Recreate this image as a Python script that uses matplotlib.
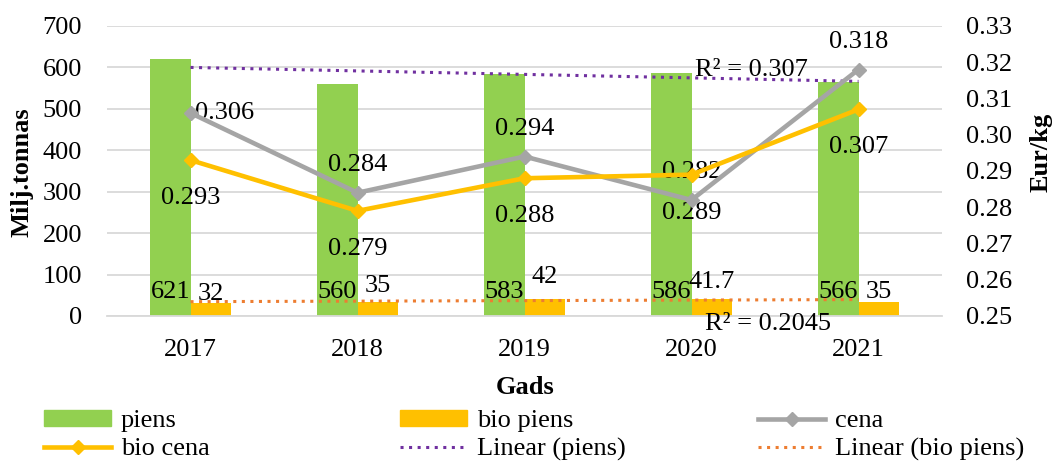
import matplotlib
matplotlib.use("Agg")
import matplotlib.pyplot as plt
import numpy as np
from matplotlib.lines import Line2D
from matplotlib.patches import Patch

plt.rcParams['font.family'] = ['Liberation Serif', 'DejaVu Serif']
plt.rcParams['font.size'] = 19

years = ['2017', '2018', '2019', '2020', '2021']
piens = [621, 560, 583, 586, 566]
bio_piens = [32, 35, 42, 41.7, 35]
bio_piens_labels = ['32', '35', '42', '41.7', '35']
cena = [0.306, 0.284, 0.294, 0.282, 0.318]
bio_cena = [0.293, 0.279, 0.288, 0.289, 0.307]
r2_piens = 'R² = 0.307'
r2_bio = 'R² = 0.2045'

GREEN = '#92d050'
GOLD = '#ffc000'
GREY = '#a5a5a5'
PURPLE = '#7030a0'
ORANGE = '#ed7d31'
GRID = '#d9d9d9'

PX = 0.72  # points per pixel at dpi 100

fig = plt.figure(figsize=(10.56, 4.63), dpi=100)
ax1 = fig.add_axes([107 / 1056, 1 - 316 / 463, (942 - 107) / 1056, (316 - 26) / 463])
ax2 = ax1.twinx()

x = np.arange(len(years))
w = 0.24

ax1.bar(x - w / 2, piens, w, color=GREEN, zorder=2)
ax1.bar(x + w / 2, bio_piens, w, color=GOLD, zorder=2)

# linear trendlines
for vals, col in ((piens, PURPLE), (bio_piens, ORANGE)):
    k, b = np.polyfit(x, vals, 1)
    ax1.plot(x, k * x + b, color=col, lw=2.2, linestyle=(0, (1, 1.8)), zorder=3)

ax1.set_xlim(-0.5, len(years) - 0.5)
ax1.set_ylim(0, 700)
ax1.set_yticks(range(0, 701, 100))
ax1.set_xticks(x)
ax1.set_xticklabels(years)
ax1.grid(axis='y', color=GRID, lw=1.3, zorder=0)
ax1.set_axisbelow(True)
ax1.tick_params(axis='y', length=0, pad=18)
ax1.tick_params(axis='x', length=0, pad=16.5)
for s in ('top', 'left', 'right'):
    ax1.spines[s].set_visible(False)
ax1.spines['bottom'].set_color(GRID)
ax1.spines['bottom'].set_linewidth(1.3)

# bar labels
for i, v in enumerate(piens):
    ax1.annotate(str(v), (x[i] - w / 2, 0), xytext=(0, 18 * PX), textcoords='offset points',
                 ha='center', va='baseline', zorder=6)
bio_dy = [3, 9.5, 15.5, 10.5, 3.5]
for i, v in enumerate(bio_piens):
    ax1.annotate(bio_piens_labels[i], (x[i] + w / 2, v), xytext=(0, bio_dy[i] * PX),
                 textcoords='offset points', ha='center', va='baseline', zorder=6)

ax1.text(3.36, 579, r2_piens, ha='center', va='baseline', zorder=6)
ax1.text(3.46, -34, r2_bio, ha='center', va='baseline', zorder=6, clip_on=False)

# price lines
ax2.plot(x, cena, color=GREY, lw=3.3, marker='D', ms=7.5, zorder=4)
ax2.plot(x, bio_cena, color=GOLD, lw=3.3, marker='D', ms=7.5, zorder=4)
ax2.set_ylim(0.25, 0.33)
ax2.set_yticks(np.arange(0.25, 0.3301, 0.01))
ax2.set_yticklabels([f'{t:.2f}' for t in np.arange(0.25, 0.3301, 0.01)])
ax2.tick_params(axis='y', length=0, pad=17)
for s in ax2.spines.values():
    s.set_visible(False)

for i, v in enumerate(cena):
    if i == 0:
        ax2.annotate(f'{v:.3f}', (x[i], v), xytext=(4 * PX, -6 * PX), textcoords='offset points',
                     ha='left', va='baseline')
    else:
        ax2.annotate(f'{v:.3f}', (x[i], v), xytext=(0, 22 * PX), textcoords='offset points',
                     ha='center', va='baseline')
for i, v in enumerate(bio_cena):
    ax2.annotate(f'{v:.3f}', (x[i], v), xytext=(0, -44 * PX), textcoords='offset points',
                 ha='center', va='baseline')

fig.text(22 / 1056, 1 - 172 / 463, 'Milj.tonnas', rotation=90, ha='center', va='center',
         fontweight='bold')
fig.text(1041 / 1056, 1 - 152 / 463, 'Eur/kg', rotation=90, ha='center', va='center',
         fontweight='bold')
fig.text(525 / 1056, 1 - 388 / 463, 'Gads', ha='center', va='center', fontweight='bold')

# legend in three columns
h_piens = Patch(color=GREEN)
h_bio = Patch(color=GOLD)
h_cena = Line2D([], [], color=GREY, lw=3.3, marker='D', ms=7.5)
h_bcena = Line2D([], [], color=GOLD, lw=3.3, marker='D', ms=7.5)
h_lin1 = Line2D([], [], color=PURPLE, lw=2.2, linestyle=(0, (1, 1.8)))
h_lin2 = Line2D([], [], color=ORANGE, lw=2.2, linestyle=(0, (1, 1.8)))
cols = [((h_piens, h_bcena), ('piens', 'bio cena'), 44),
        ((h_bio, h_lin1), ('bio piens', 'Linear (piens)'), 400),
        ((h_cena, h_lin2), ('cena', 'Linear (bio piens)'), 758)]
for hs, ls, px in cols:
    fig.legend(hs, ls, loc='upper left', bbox_to_anchor=(px / 1056, 1 - 410 / 463),
               frameon=False, borderpad=0, borderaxespad=0, handlelength=2.55,
               handletextpad=0.35, labelspacing=0.22, handleheight=0.55)

fig.savefig('out.png', dpi=100)
